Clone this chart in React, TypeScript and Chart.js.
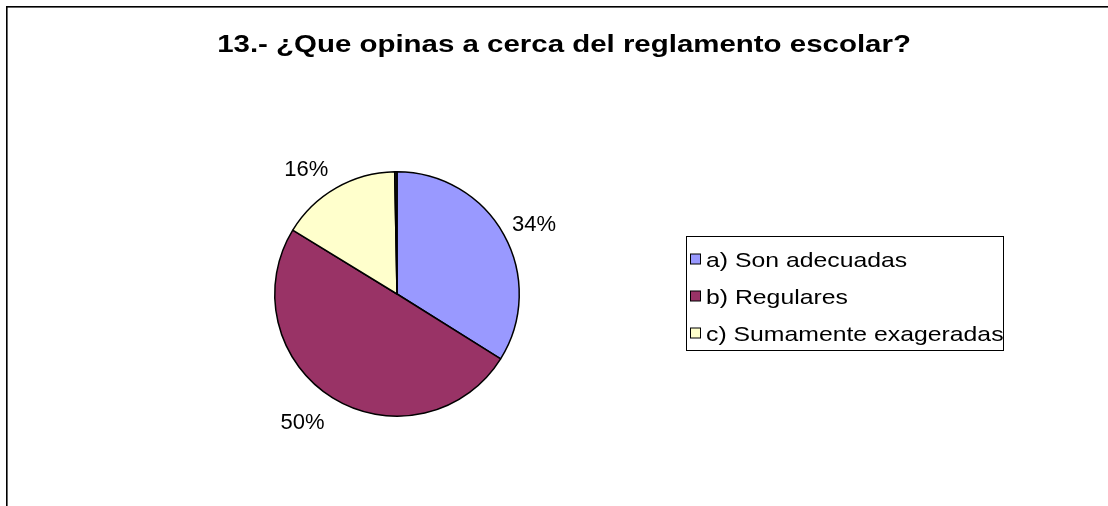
import React, { useEffect, useRef } from "react";
import { Chart, registerables } from "chart.js";

Chart.register(...registerables);

const titleText = "13.- ¿Que opinas a cerca del reglamento escolar?";
const categories = ["a) Son adecuadas", "b) Regulares", "c) Sumamente exageradas", ""];
const values = [34, 50, 16, 0.3];
const colors = ["#9999FF", "#993366", "#FFFFCC", "#222222"];
const legendCount = 3;

const FONT = '"Liberation Sans", Arial, Helvetica, sans-serif';

function stretchedText(ctx: any, text: string, x: number, y: number, sx: number, align: string) {
  ctx.save();
  ctx.translate(x, y);
  ctx.scale(sx, 1);
  ctx.textAlign = align;
  ctx.fillText(text, 0, 0);
  ctx.restore();
}

const decorPlugin = {
  id: "decor",
  afterDraw(chart: any) {
    const ctx = chart.ctx;
    ctx.save();
    // frame (left and top edges)
    ctx.fillStyle = "#000";
    ctx.fillRect(6, 6, chart.width - 6, 1.6);
    ctx.fillRect(6, 6, 1.6, chart.height - 6);

    // title
    ctx.fillStyle = "#000";
    ctx.font = `bold 23px ${FONT}`;
    ctx.textBaseline = "alphabetic";
    stretchedText(ctx, titleText, chart.width / 2 + 10, 52, 1.28, "center");

    // percent labels
    const meta = chart.getDatasetMeta(0);
    const data = chart.data.datasets[0].data as number[];
    const total = data.reduce((a, b) => a + b, 0);
    ctx.font = `22px ${FONT}`;
    ctx.textBaseline = "middle";
    ctx.textAlign = "center";
    meta.data.forEach((arc: any, i: number) => {
      if (i >= legendCount) return;
      const { x, y, startAngle, endAngle, outerRadius } = arc.getProps(
        ["x", "y", "startAngle", "endAngle", "outerRadius"],
        true
      );
      const mid = (startAngle + endAngle) / 2;
      const ux = Math.cos(mid);
      const uy = Math.sin(mid);
      const pct = Math.round((data[i] / total) * 100) + "%";
      const w = ctx.measureText(pct).width;
      const px = x + ux * outerRadius;
      const py = y + uy * outerRadius;
      const lx = px + Math.sign(ux) * (w / 2 + 8);
      const ly = py + (uy > 0 ? uy * 29 : uy * 21);
      ctx.fillText(pct, lx, ly);
    });

    // legend
    const bx = 686.5, by = 236.5, bw = 317, bh = 114;
    ctx.strokeStyle = "#000";
    ctx.lineWidth = 1;
    ctx.strokeRect(bx, by, bw, bh);
    ctx.textBaseline = "alphabetic";
    ctx.font = `21px ${FONT}`;
    for (let i = 0; i < legendCount; i++) {
      const base = 266.5 + i * 37;
      ctx.fillStyle = colors[i];
      ctx.fillRect(690.5, base - 12.5, 10, 10);
      ctx.strokeRect(690.5, base - 12.5, 10, 10);
      ctx.fillStyle = "#000";
      stretchedText(ctx, categories[i], 706, base, 1.18, "left");
    }
    ctx.restore();
  },
};

export default function App() {
  const ref = useRef<HTMLCanvasElement | null>(null);
  useEffect(() => {
    if (!ref.current) return;
    const chart = new Chart(ref.current, {
      type: "pie",
      data: {
        labels: categories,
        datasets: [
          {
            data: values,
            backgroundColor: colors,
            borderColor: "#000",
            borderWidth: 1.5,
          },
        ],
      },
      options: {
        responsive: false,
        animation: false,
        layout: { padding: { left: 274, top: 171, right: 588, bottom: 89 } },
        plugins: {
          legend: { display: false },
          title: { display: false },
          tooltip: { enabled: false },
        },
      },
      plugins: [decorPlugin],
    });
    return () => chart.destroy();
  }, []);
  return (
    <div style={{ position: "fixed", left: 0, top: 0, width: 1108, height: 506, background: "#fff" }}>
      <canvas ref={ref} width={1108} height={506} style={{ display: "block" }} />
    </div>
  );
}
